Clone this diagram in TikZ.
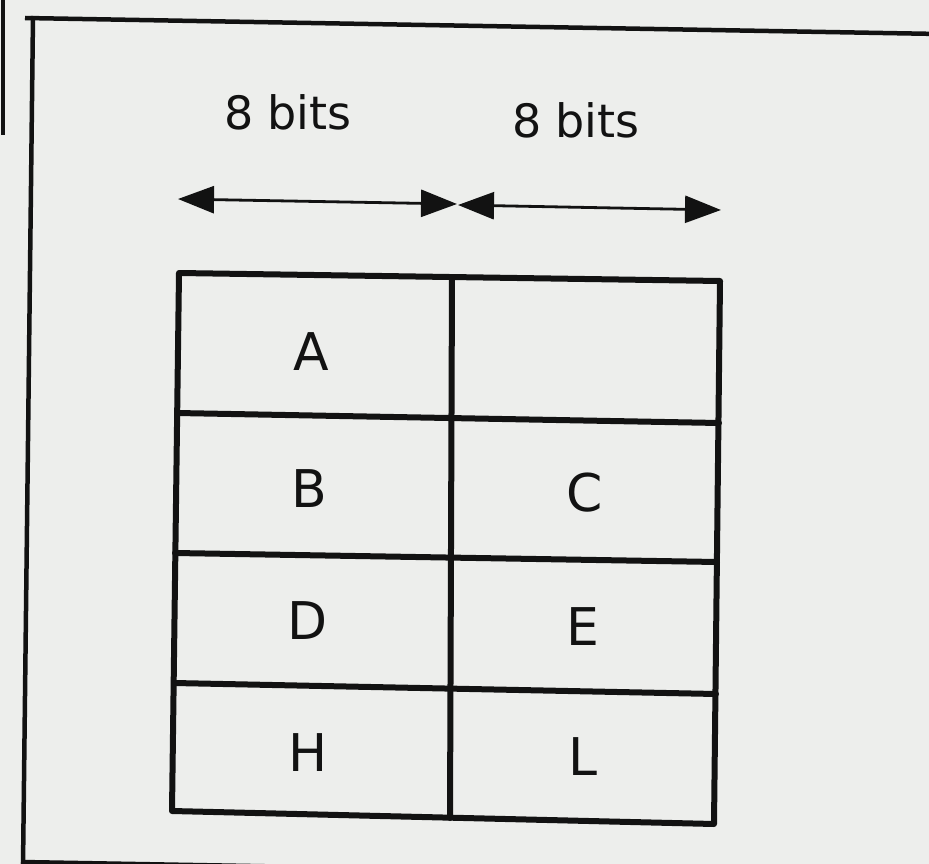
\documentclass[tikz,border=0pt]{standalone}
\usepackage{fontspec}
\setmainfont{DejaVu Sans}
\usetikzlibrary{arrows.meta}
\definecolor{paper}{RGB}{237,238,236}
\definecolor{ink}{RGB}{18,18,18}
\tikzset{
  frameline/.style={draw=ink, line width=4.5pt},
  gridline/.style={draw=ink, line width=6pt, line cap=round, line join=round},
  widtharrow/.style={draw=ink, line width=2.8pt,
    -{Triangle[length=36pt,width=27pt]}},
  celltext/.style={text=ink, font=\fontsize{52}{52}\selectfont, inner sep=0pt, anchor=center},
  bitstext/.style={text=ink, font=\fontsize{46}{46}\selectfont, inner sep=0pt, anchor=center}
}
\begin{document}
\begin{tikzpicture}[x=1pt,y=-1pt]
  % paper
  \fill[paper] (0,0) rectangle (929,864);
  \useasboundingbox (0,0) rectangle (929,864);
  \begin{scope}
    \clip (0,0) rectangle (929,864);
    % outer frame
    \draw[frameline] (3,0) -- (3,135);
    \draw[frameline] (25,18) -- (940,34);
    \draw[frameline] (33,16) -- (23,866);
    \draw[frameline] (21,862) -- (940,878);
  \end{scope}

  % register grid corners
  \coordinate (L0) at (179,273);
  \coordinate (L1) at (177,413);
  \coordinate (L2) at (175,553);
  \coordinate (L3) at (174,683);
  \coordinate (L4) at (172,811);
  \coordinate (R0) at (720,281);
  \coordinate (R1) at (719,423);
  \coordinate (R2) at (717,562);
  \coordinate (R3) at (716,694);
  \coordinate (R4) at (714,824);
  \coordinate (M0) at (452,277);
  \coordinate (M4) at (450,818);

  \draw[gridline] (L0) -- (R0) -- (R4) -- (L4) -- cycle;
  \draw[gridline] (L1) -- (R1);
  \draw[gridline] (L2) -- (R2);
  \draw[gridline] (L3) -- (R3);
  \draw[gridline] (M0) -- (M4);

  % register names
  \node[celltext] (A) at (311,352) {A};
  \node[celltext] (B) at (309,489) {B};
  \node[celltext] (C) at (585,493) {C};
  \node[celltext] (D) at (308,621) {D};
  \node[celltext] (E) at (583,627) {E};
  \node[celltext] (H) at (308,753) {H};
  \node[celltext] (L) at (583,757) {L};

  % width markers
  \node[bitstext] (bitsl) at (288,112) {8\hspace{0.3em}bits};
  \node[bitstext] (bitsr) at (576,120) {8\hspace{0.3em}bits};
  \coordinate (wl) at (178,199);
  \coordinate (wml) at (457,204);
  \coordinate (wmr) at (458,205);
  \coordinate (wr) at (721,210);
  \coordinate (wc) at (317,201.5);
  \coordinate (wd) at (589,207.5);
  \draw[widtharrow] (wc) -- (wl);
  \draw[widtharrow] (wc) -- (wml);
  \draw[widtharrow] (wd) -- (wmr);
  \draw[widtharrow] (wd) -- (wr);
\end{tikzpicture}
\end{document}
